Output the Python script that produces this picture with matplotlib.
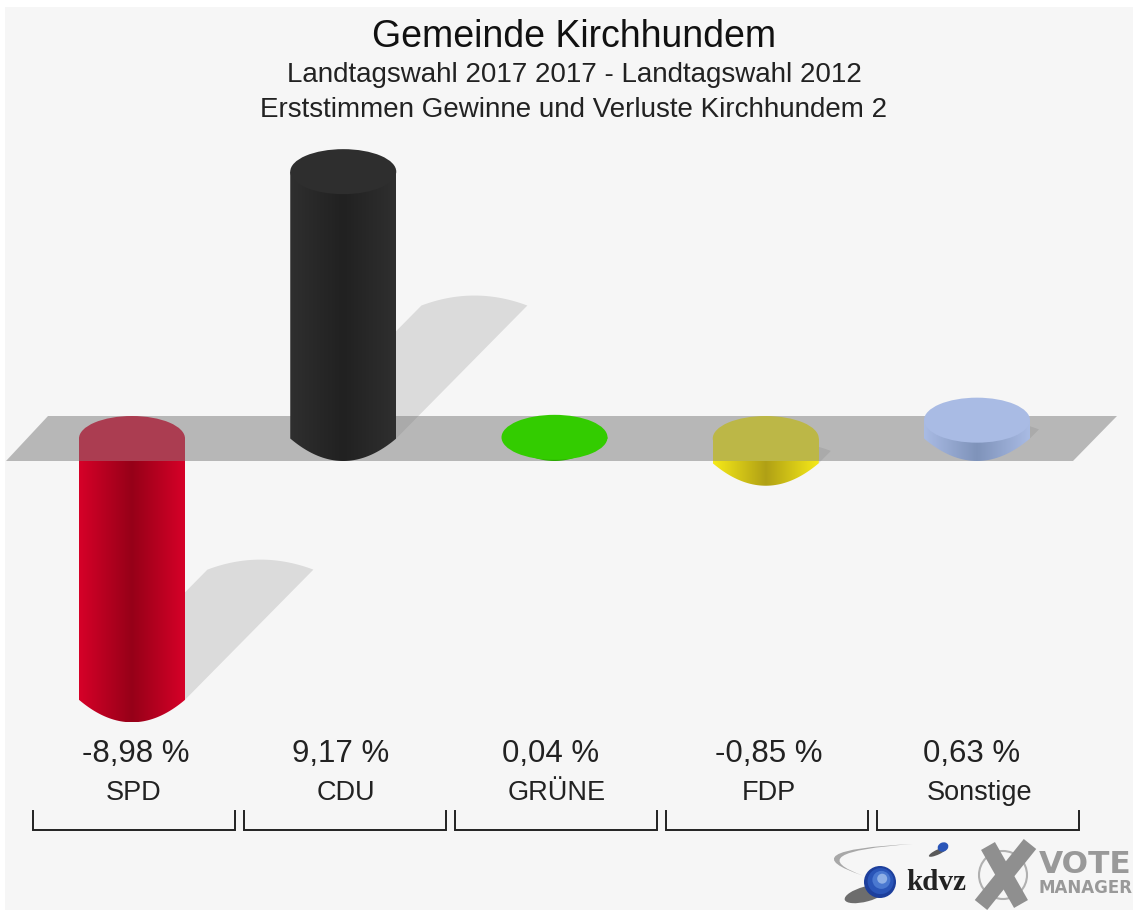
import matplotlib
matplotlib.use("Agg")
import matplotlib.pyplot as plt
import numpy as np
from matplotlib.colors import LinearSegmentedColormap
from matplotlib.patches import Circle, Ellipse, PathPatch, Polygon, Rectangle
from matplotlib.path import Path
from matplotlib.transforms import Affine2D

plt.rcParams["font.family"] = ["Liberation Sans", "DejaVu Sans"]

# Chart data
parties = ["SPD", "CDU", "GRÜNE", "FDP", "Sonstige"]
changes = [-8.98, 9.17, 0.04, -0.85, 0.63]
value_labels = ["-8,98 %", "9,17 %", "0,04 %", "-0,85 %", "0,63 %"]

# Colours: edge of the body, middle of the body, top cap
body_edge = ["#d60028", "#2f2f2f", "#33cc00", "#f6ea18", "#a9bbe4"]
body_mid = ["#960018", "#212121", "#2aa800", "#b0a015", "#7f93ba"]
cap_color = ["#de0028", "#2e2e2e", "#33cc00", "#fff514", "#a9bbe4"]

W, H = 1133, 911
PX_PER_CAT = 211.25
PX_PER_UNIT = 29.1
X0, Y0 = 132, 438.5  # pixel position of category 0, value 0
BAR_HW = 53 / PX_PER_CAT
CAP_HH = 22.5 / PX_PER_UNIT

fig = plt.figure(figsize=(W / 100, H / 100), dpi=100, facecolor="white")
ax = fig.add_axes([0, 0, 1, 1])
ax.axis("off")

# everything decorative is placed in image pixels
pix = Affine2D().scale(1 / W, -1 / H).translate(0, 1) + fig.transFigure

ax.add_patch(Rectangle((5, 7), W - 5, 903, transform=pix, fc="#f6f6f6", ec="none", zorder=0))


def draw_bar(i, v, z):
    top, bottom = max(v, 0), min(v, 0)
    u = np.linspace(1, -1, 60)
    xs = i + BAR_HW * u
    ys = bottom - CAP_HH * (1 - u ** 2)  # the lower edge is a shallow bowl
    verts = [(i - BAR_HW, top), (i + BAR_HW, top)] + list(zip(xs, ys)) + [(i - BAR_HW, top)]
    clip = PathPatch(Path(verts), transform=ax.transData, fc="none", ec="none")
    ax.add_patch(clip)
    cmap = LinearSegmentedColormap.from_list("b", [body_edge[i], body_mid[i], body_edge[i]])
    im = ax.imshow(np.linspace(0, 1, 256)[None, :], cmap=cmap, aspect="auto", zorder=z,
                   extent=(i - BAR_HW, i + BAR_HW, bottom - CAP_HH, top))
    im.set_clip_path(clip)
    if v < 0:
        # flat colour down to the front edge of the plane
        ax.add_patch(Rectangle((i - BAR_HW, -CAP_HH), 2 * BAR_HW, CAP_HH, fc=cap_color[i], ec="none", zorder=z + 0.1))
    ax.add_patch(Ellipse((i, top), 2 * BAR_HW, 2 * CAP_HH, fc=cap_color[i], ec="none", zorder=z + 0.1))


# shadows fall to the upper right, proportional to the change
for i, v in enumerate(changes):
    base = min(v, 0)
    dx = abs(v) * 14.3 / PX_PER_CAT
    dy = abs(v) * 14.5 / PX_PER_UNIT
    u = np.linspace(-1, 1, 40)
    arc_x = i + dx + BAR_HW * u
    arc_y = base + dy + 10 / PX_PER_UNIT * (1 - u ** 2)
    pts = [(i - BAR_HW, base)] + list(zip(arc_x, arc_y)) + [(i + BAR_HW, base)]
    ax.add_patch(Polygon(pts, closed=True, fc="black", alpha=0.105, ec="none", zorder=1))

for i, v in enumerate(changes):
    if v < 0:
        draw_bar(i, v, 2)

# grey base plane, half transparent over the negative bars
plane = [(6, 461), (1073, 461), (1117, 416), (48, 416)]
ax.add_patch(Polygon(plane, closed=True, transform=pix, fc="#7a7a7a", alpha=0.5, ec="none", zorder=3))

for i, v in enumerate(changes):
    if v >= 0:
        draw_bar(i, v, 4)

ax.set_xlim(-X0 / PX_PER_CAT, (W - X0) / PX_PER_CAT)
ax.set_ylim((Y0 - H) / PX_PER_UNIT, Y0 / PX_PER_UNIT)

# Titles
ax.text(574, 47, "Gemeinde Kirchhundem", transform=pix, ha="center", va="baseline",
        fontsize=27, color="#111111")
ax.text(574, 82, "Landtagswahl 2017 2017 - Landtagswahl 2012", transform=pix, ha="center",
        va="baseline", fontsize=20, color="#222222")
ax.text(574, 117, "Erststimmen Gewinne und Verluste Kirchhundem 2", transform=pix, ha="center",
        va="baseline", fontsize=20, color="#222222")

# Labels under the bars
value_x = [136, 341, 551, 769, 972]
name_x = [134, 346, 557, 769, 980]
for i in range(len(parties)):
    ax.text(value_x[i], 762, value_labels[i], transform=pix, ha="center", va="baseline",
            fontsize=22.5, color="#222222")
    ax.text(name_x[i], 800, parties[i], transform=pix, ha="center", va="baseline",
            fontsize=19.5, color="#222222")

# Brackets
for left in [33, 244, 455, 666, 877]:
    ax.plot([left, left, left + 202, left + 202], [811, 830, 830, 811], transform=pix,
            color="#222222", lw=1.4, zorder=5, solid_joinstyle="miter")

# kdvz logo
swoosh = Path([(913, 844), (785, 850), (864, 876), (797, 852), (913, 844)],
              [Path.MOVETO, Path.CURVE3, Path.CURVE3, Path.CURVE3, Path.CURVE3])
ax.add_patch(PathPatch(swoosh, transform=pix, fc="#a8a8a8", ec="none", zorder=5))
ax.add_patch(Ellipse((866, 894), 44, 15, angle=-15, transform=pix, fc="#333333", ec="none", alpha=0.7, zorder=5))
for r, c in zip([16, 13, 9, 5], ["#1d3f9c", "#2a55b8", "#4a78d0", "#8fb0e6"]):
    ax.add_patch(Circle((880 + (16 - r) * 0.2, 882 - (16 - r) * 0.3), r, transform=pix, fc=c, ec="none", zorder=6))
ax.add_patch(Ellipse((938, 852), 20, 5, angle=-25, transform=pix, fc="#333333", ec="none", alpha=0.8, zorder=5))
ax.add_patch(Ellipse((943, 847), 11, 9, angle=-25, transform=pix, fc="#2a55b8", ec="none", zorder=6))
ax.text(906, 890, "kdvz", transform=pix, family="Liberation Serif", weight="bold", fontsize=21,
        color="#222222", ha="left", va="baseline", zorder=6)

# Vote Manager logo
ax.add_patch(Circle((1003, 875), 24, transform=pix, fc="none", ec="#b0b0b0", lw=1.5, zorder=5))
ax.plot([988, 1021], [846, 904], transform=pix, color="#8f8f8f", lw=11.5, zorder=6, solid_capstyle="butt")
ax.plot([1030, 981], [844, 905], transform=pix, color="#8f8f8f", lw=11.5, zorder=6, solid_capstyle="butt")
ax.text(1039, 873, "VOTE", transform=pix, family="DejaVu Sans", weight="bold", fontsize=22.5, color="#999999",
        ha="left", va="baseline", zorder=6)
ax.text(1039, 893, "MANAGER", transform=pix, family="DejaVu Sans", weight="bold", fontsize=12, color="#999999",
        ha="left", va="baseline", zorder=6)

fig.savefig("out.png", dpi=100, facecolor="white")
